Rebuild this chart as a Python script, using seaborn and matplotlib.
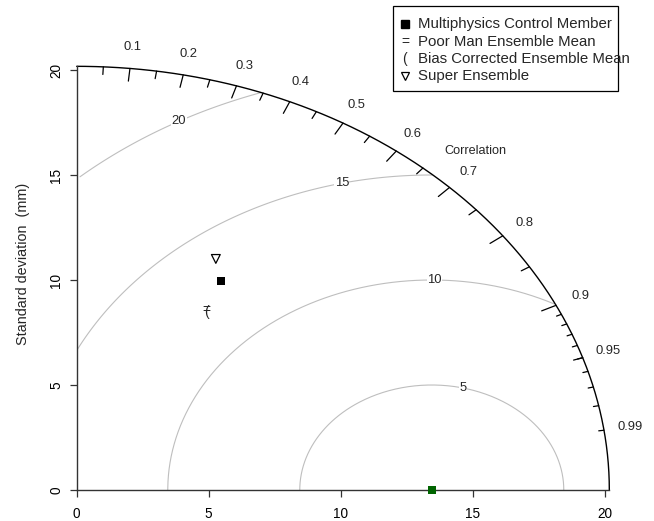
import numpy as np
import pandas as pd
import seaborn as sns
import matplotlib
matplotlib.use("Agg")
import matplotlib.pyplot as plt
from matplotlib.patches import Rectangle

# ---------------- data ----------------
ref_sd = 13.45                      # observed standard deviation (mm)
model_names = ["Multiphysics Control Member", "Poor Man Ensemble Mean",
               "Bias Corrected Ensemble Mean", "Super Ensemble"]
model_sd = [11.35, 9.87, 9.78, 12.20]
model_cor = [0.482, 0.496, 0.502, 0.432]
rms_levels = [5, 10, 15, 20]
cor_labels = [0.1, 0.2, 0.3, 0.4, 0.5, 0.6, 0.7, 0.8, 0.9, 0.95, 0.99]
sd_ticks = [0, 5, 10, 15, 20]

# ---------------- style ----------------
sns.set_theme(style="white")
plt.rcParams['font.family'] = ['Liberation Sans', 'DejaVu Sans']

maxsd = 1.5 * ref_sd
gray = "#BEBEBE"

fig = plt.figure(figsize=(6.54, 5.21), dpi=100)
sx, sy = 26.4, 21.0
lim = 21.5
ax = fig.add_axes([76.7 / 654, 31 / 521, lim * sx / 654, lim * sy / 521])
ax.set_xlim(0, lim)
ax.set_ylim(0, lim)
ax.set_facecolor("white")

# outer arc
th = np.linspace(0, np.pi / 2, 300)
ax.plot(np.cos(th) * maxsd, np.sin(th) * maxsd, color="black", lw=1.0, clip_on=False)

# RMS contours
label_angles = [1.333, 1.56, 1.80, 2.07]
for g, la in zip(rms_levels, label_angles):
    t = np.arange(0, np.pi, 0.01)
    xc = np.cos(t) * g + ref_sd
    yc = np.sin(t) * g
    keep = (xc >= 0) & (xc ** 2 + yc ** 2 <= maxsd ** 2)
    ax.plot(xc[keep], yc[keep], color=gray, lw=0.8, zorder=1)
    ax.text(ref_sd + np.cos(la) * g, np.sin(la) * g, str(g), fontsize=9.4,
            ha="center", va="center", zorder=2,
            bbox=dict(facecolor="white", edgecolor="none", pad=0.3))

# correlation ticks
big = np.arccos(np.arange(1, 10) / 10)
med = np.arccos(np.arange(5, 100, 10) / 100)
sml = np.arccos(np.arange(91, 100) / 100)
for arr, f in ((big, 0.97), (med, 0.982), (sml, 0.99)):
    for a in arr:
        ax.plot([np.cos(a) * maxsd, np.cos(a) * f * maxsd],
                [np.sin(a) * maxsd, np.sin(a) * f * maxsd],
                color="black", lw=0.9, clip_on=False)

for c in cor_labels:
    a = np.arccos(c)
    ax.text(np.cos(a) * 1.05 * maxsd, np.sin(a) * 1.05 * maxsd, f"{c:g}",
            fontsize=9.4, ha="center", va="center", clip_on=False)
ca = np.deg2rad(46.9)
ax.text(np.cos(ca) * 1.095 * maxsd, np.sin(ca) * 1.095 * maxsd, "Correlation",
        fontsize=9.1, ha="center", va="center", clip_on=False)

# model points
mx = np.array(model_sd) * np.array(model_cor)
my = np.array(model_sd) * np.sqrt(1 - np.array(model_cor) ** 2)
df = pd.DataFrame({"x": mx, "y": my, "name": model_names})
sns.scatterplot(data=df.iloc[[0]], x="x", y="y", marker="s", color="black",
                s=30, edgecolor="none", ax=ax, zorder=4, legend=False)
sns.scatterplot(data=df.iloc[[3]], x="x", y="y", marker="v", facecolor="none",
                edgecolor="black", linewidth=0.9, s=40, ax=ax, zorder=4, legend=False)
ax.text(mx[1], my[1], "=", fontsize=10, ha="center", va="center", zorder=4)
ax.text(mx[2], my[2], "(", fontsize=10, ha="center", va="center", zorder=4)

# reference point
sns.scatterplot(x=[ref_sd], y=[0], marker="s", color="darkgreen", s=34,
                edgecolor="none", ax=ax, zorder=5, legend=False, clip_on=False)

# axes
for s in ("top", "right"):
    ax.spines[s].set_visible(False)
for s in ("left", "bottom"):
    ax.spines[s].set_color("#333333")
    ax.spines[s].set_linewidth(1.0)
    ax.spines[s].set_bounds(0, maxsd)
ax.set_xticks(sd_ticks)
ax.set_yticks(sd_ticks)
ax.set_xticklabels([str(v) for v in sd_ticks])
ax.set_yticklabels([str(v) for v in sd_ticks], rotation=90, va="center")
ax.tick_params(axis="both", direction="out", length=5.3, width=0.9, color="#333333",
               labelsize=9.8, labelcolor="black", left=True, bottom=True)
ax.tick_params(axis="x", pad=7)
ax.tick_params(axis="y", pad=4.5)
ax.set_xlabel("")
ax.set_ylabel("Standard deviation  (mm)", fontsize=10.4)
ax.yaxis.set_label_coords(-(76.7 - 30.0) / (lim * sx), 0.5)

# legend (drawn manually like R's legend box)
W, H = 654, 521
fig.patches.append(Rectangle((393 / W, 1 - 91 / H), (618 - 393) / W, (91 - 6) / H,
                             transform=fig.transFigure, facecolor="white",
                             edgecolor="black", lw=0.9, zorder=10))
ys = [24, 42, 59, 76]
fig.lines.append(plt.Line2D([405 / W], [1 - ys[0] / H], marker="s", color="black",
                            markersize=5.2, linestyle="none", transform=fig.transFigure, zorder=11))
fig.text(405 / W, 1 - ys[1] / H, "=", fontsize=10, ha="center", va="center", zorder=11)
fig.text(405 / W, 1 - ys[2] / H, "(", fontsize=10, ha="center", va="center", zorder=11)
fig.lines.append(plt.Line2D([405 / W], [1 - ys[3] / H], marker="v", markerfacecolor="none",
                            markeredgecolor="black", markersize=6, markeredgewidth=0.9,
                            linestyle="none", transform=fig.transFigure, zorder=11))
for name, yy in zip(model_names, ys):
    fig.text(418 / W, 1 - yy / H, name, fontsize=10.8, ha="left", va="center", zorder=11)

fig.savefig("out.png", dpi=100, facecolor="white")
